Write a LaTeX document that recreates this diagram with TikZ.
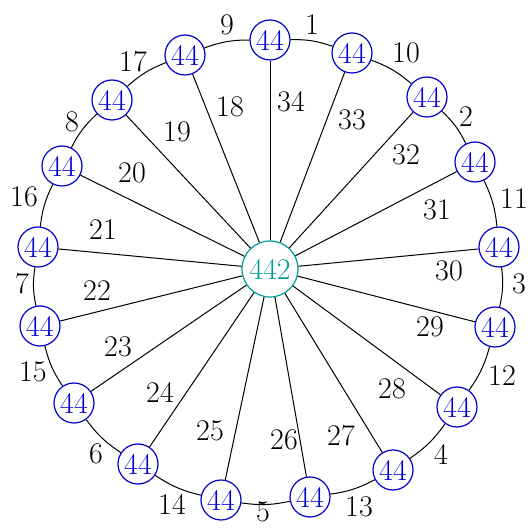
\documentclass[tikz,border=0pt]{standalone}
\usepackage{fontspec}
\definecolor{vblue}{RGB}{0,0,205}
\definecolor{hubteal}{RGB}{0,155,150}
\tikzset{
  vertex/.style={
    circle,
    draw=vblue,
    text=vblue,
    line width=1.2pt,
    minimum size=40pt,
    inner sep=0pt,
    font=\rmfamily\fontsize{30}{30}\selectfont
  },
  hub/.style={
    circle,
    draw=hubteal,
    text=hubteal,
    line width=1.2pt,
    minimum size=56pt,
    inner sep=0pt,
    font=\rmfamily\fontsize{30}{30}\selectfont
  },
  rim/.style={line width=1pt, bend left=10},
  spoke/.style={line width=1pt},
  elabel/.style={inner sep=0pt, font=\rmfamily\fontsize{30}{30}\selectfont}
}

\begin{document}
\begin{tikzpicture}[x=1pt, y=1pt]
  \useasboundingbox (0,0) rectangle (528,528);

  % hub and rim vertices
  \node[hub] (c) at (270,259) {442};
  \node[vertex] (v0) at (270,488) {44};
  \node[vertex] (v1) at (352,475) {44};
  \node[vertex] (v2) at (427,431) {44};
  \node[vertex] (v3) at (475,366) {44};
  \node[vertex] (v4) at (499,281) {44};
  \node[vertex] (v5) at (495,201) {44};
  \node[vertex] (v6) at (457,121) {44};
  \node[vertex] (v7) at (393,58) {44};
  \node[vertex] (v8) at (310,31) {44};
  \node[vertex] (v9) at (221,28) {44};
  \node[vertex] (v10) at (138,64) {44};
  \node[vertex] (v11) at (74,125) {44};
  \node[vertex] (v12) at (40,202) {44};
  \node[vertex] (v13) at (38,281) {44};
  \node[vertex] (v14) at (62,362) {44};
  \node[vertex] (v15) at (112,428) {44};
  \node[vertex] (v16) at (185,473) {44};

  % rim edges
  \draw[rim] (v0) to (v1);
  \draw[rim] (v1) to (v2);
  \draw[rim] (v2) to (v3);
  \draw[rim] (v3) to (v4);
  \draw[rim] (v4) to (v5);
  \draw[rim] (v5) to (v6);
  \draw[rim] (v6) to (v7);
  \draw[rim] (v7) to (v8);
  \draw[rim] (v8) to (v9);
  \draw[rim] (v9) to (v10);
  \draw[rim] (v10) to (v11);
  \draw[rim] (v11) to (v12);
  \draw[rim] (v12) to (v13);
  \draw[rim] (v13) to (v14);
  \draw[rim] (v14) to (v15);
  \draw[rim] (v15) to (v16);
  \draw[rim] (v16) to (v0);

  % spokes
  \draw[spoke] (c) -- (v0);
  \draw[spoke] (c) -- (v1);
  \draw[spoke] (c) -- (v2);
  \draw[spoke] (c) -- (v3);
  \draw[spoke] (c) -- (v4);
  \draw[spoke] (c) -- (v5);
  \draw[spoke] (c) -- (v6);
  \draw[spoke] (c) -- (v7);
  \draw[spoke] (c) -- (v8);
  \draw[spoke] (c) -- (v9);
  \draw[spoke] (c) -- (v10);
  \draw[spoke] (c) -- (v11);
  \draw[spoke] (c) -- (v12);
  \draw[spoke] (c) -- (v13);
  \draw[spoke] (c) -- (v14);
  \draw[spoke] (c) -- (v15);
  \draw[spoke] (c) -- (v16);

  % rim labels
  \node[elabel] (l1) at (312,503) {1};
  \node[elabel] (l10) at (406,475) {10};
  \node[elabel] (l2) at (466,411) {2};
  \node[elabel] (l11) at (514,329) {11};
  \node[elabel] (l3) at (519,244) {3};
  \node[elabel] (l12) at (502,152) {12};
  \node[elabel] (l4) at (441,74) {4};
  \node[elabel] (l13) at (359,21) {13};
  \node[elabel] (l5) at (263,16) {5};
  \node[elabel] (l14) at (172,24) {14};
  \node[elabel] (l6) at (96,74) {6};
  \node[elabel] (l15) at (33,156) {15};
  \node[elabel] (l7) at (22,244) {7};
  \node[elabel] (l16) at (24,331) {16};
  \node[elabel] (l8) at (72,406) {8};
  \node[elabel] (l17) at (133,466) {17};
  \node[elabel] (l9) at (227,503) {9};

  % spoke labels
  \node[elabel] (l18) at (230,421) {18};
  \node[elabel] (l19) at (177,396) {19};
  \node[elabel] (l20) at (132,355) {20};
  \node[elabel] (l21) at (103,298) {21};
  \node[elabel] (l22) at (97,237) {22};
  \node[elabel] (l23) at (118,181) {23};
  \node[elabel] (l24) at (160,136) {24};
  \node[elabel] (l25) at (210,97) {25};
  \node[elabel] (l26) at (284,88) {26};
  \node[elabel] (l27) at (341,92) {27};
  \node[elabel] (l28) at (392,139) {28};
  \node[elabel] (l29) at (430,201) {29};
  \node[elabel] (l30) at (449,257) {30};
  \node[elabel] (l31) at (437,318) {31};
  \node[elabel] (l32) at (406,373) {32};
  \node[elabel] (l33) at (352,408) {33};
  \node[elabel] (l34) at (291,426) {34};
\end{tikzpicture}
\end{document}
